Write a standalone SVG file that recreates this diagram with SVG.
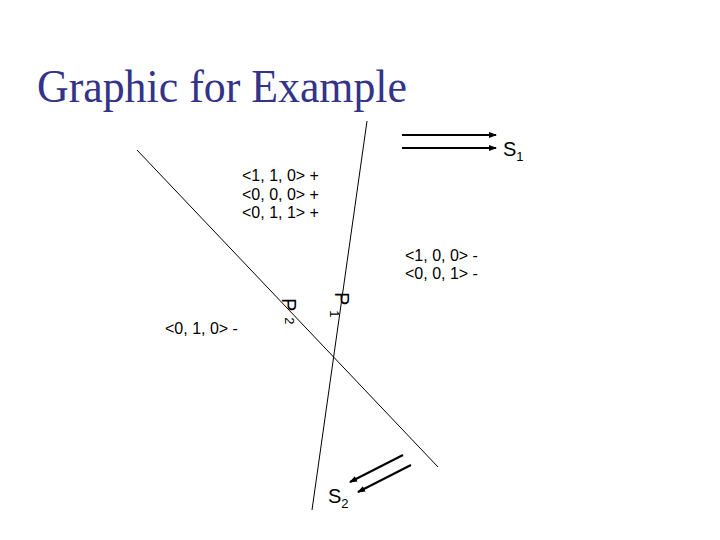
<svg xmlns="http://www.w3.org/2000/svg" width="720" height="540" viewBox="0 0 720 540">
<defs>
<marker id="ah" markerWidth="8" markerHeight="6" refX="7" refY="3" orient="auto" markerUnits="userSpaceOnUse">
<path d="M0,0 L8,3 L0,6 z" fill="#000"/>
</marker>
<style>
.t{font-family:"Liberation Sans",Arial,sans-serif;font-size:16px;fill:#000}
.lab{font-family:"Liberation Sans",Arial,sans-serif;font-size:20px;fill:#000}
.sub{font-family:"Liberation Sans",Arial,sans-serif;font-size:13px;fill:#000}
.ln{stroke:#000;stroke-width:1;fill:none}
.ar{stroke:#000;stroke-width:2;fill:none;marker-end:url(#ah)}
</style>
</defs>
<rect width="720" height="540" fill="#fff"/>
<text x="37" y="102" font-family="'Liberation Serif','Times New Roman',serif" font-size="46" fill="#333388" textLength="370" lengthAdjust="spacingAndGlyphs">Graphic for Example</text>
<g id="connectors">
<line class="ln" x1="137" y1="150" x2="438" y2="467"/>
<line class="ln" x1="367" y1="121" x2="312" y2="510"/>
<line class="ar" x1="402" y1="135" x2="496" y2="135"/>
<line class="ar" x1="402" y1="148" x2="496" y2="148"/>
<line class="ar" x1="403" y1="455" x2="350" y2="482"/>
<line class="ar" x1="411" y1="465" x2="358" y2="492"/>
</g>
<g id="S1"><text class="lab" x="503" y="156">S<tspan class="sub" dy="5">1</tspan></text></g>
<g id="S2"><text class="lab" x="328" y="503">S<tspan class="sub" dy="5">2</tspan></text></g>
<g id="region-plus">
<text class="t" x="242" y="181">&lt;1, 1, 0&gt; +</text>
<text class="t" x="242" y="200">&lt;0, 0, 0&gt; +</text>
<text class="t" x="242" y="218">&lt;0, 1, 1&gt; +</text>
</g>
<g id="region-minus">
<text class="t" x="405" y="261">&lt;1, 0, 0&gt; -</text>
<text class="t" x="405" y="279">&lt;0, 0, 1&gt; -</text>
</g>
<g id="region-010"><text class="t" x="165" y="334">&lt;0, 1, 0&gt; -</text></g>
<g id="P1"><text class="lab" transform="translate(335,292) rotate(90)">P<tspan class="sub" dx="5" dy="5">1</tspan></text></g>
<g id="P2"><text class="lab" transform="translate(282,298) rotate(90)">P<tspan class="sub" dx="6" dy="-3">2</tspan></text></g>
</svg>
